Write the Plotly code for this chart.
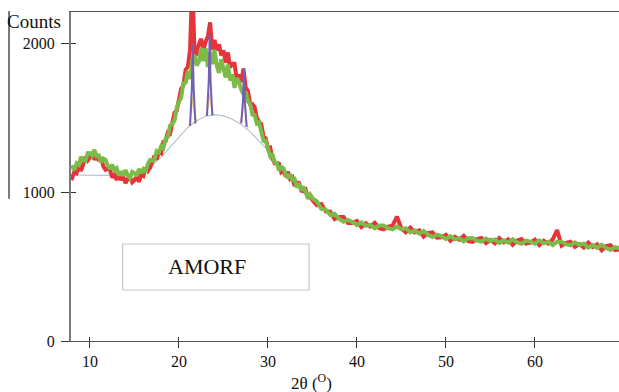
import plotly.graph_objects as go

# ---- data ----
two_theta_a = [7.9, 8.25, 8.5, 8.75, 9.0, 9.25, 9.5, 9.75,
               10.0, 10.25, 10.5, 10.75, 11.0, 11.25, 11.5, 11.75,
               12.0, 12.25, 12.5, 12.75, 13.0, 13.25, 13.5, 13.75,
               14.0, 14.25, 14.5, 14.75, 15.0, 15.25, 15.5, 15.75,
               16.0, 16.25, 16.5, 16.75, 17.0, 17.25, 17.5, 17.75,
               18.0, 18.25, 18.5, 18.75, 19.0, 19.25, 19.5, 19.75,
               20.0, 20.25, 20.5, 20.75, 21.0, 21.25, 21.5, 21.75,
               22.0, 22.25, 22.5, 22.75, 23.0, 23.25, 23.5, 23.75,
               24.0, 24.25, 24.5, 24.75, 25.0, 25.25, 25.5, 25.75,
               26.0, 26.25, 26.5, 26.75, 27.0, 27.25, 27.5, 27.75,
               28.0, 28.25, 28.5, 28.75, 29.0, 29.25, 29.5, 29.75,
               30.0, 30.25, 30.5, 30.75, 31.0, 31.25, 31.5, 31.75,
               32.0, 32.25, 32.5, 32.75, 33.0, 33.25, 33.5, 33.75,
               34.0, 34.25, 34.5, 34.75, 35.0]
two_theta_b = [35.5, 36.0, 36.5, 37.0, 37.5, 38.0, 38.5, 39.0, 39.5,
               40.0, 40.5, 41.0, 41.5, 42.0, 42.5, 43.0, 43.5, 44.0, 44.5,
               45.0, 45.5, 46.0, 46.5, 47.0, 47.5, 48.0, 48.5, 49.0, 49.5,
               50.0, 50.5, 51.0, 51.5, 52.0, 52.5, 53.0, 53.5, 54.0, 54.5,
               55.0, 55.5, 56.0, 56.5, 57.0, 57.5, 58.0, 58.5, 59.0, 59.5,
               60.0, 60.5, 61.0, 61.5, 62.0, 62.5, 63.0, 63.5, 64.0, 64.5,
               65.0, 65.5, 66.0, 66.5, 67.0, 67.5, 68.0, 68.5, 69.0, 69.5]
two_theta = two_theta_a + two_theta_b

green_counts = [
    1178, 1150, 1194, 1184, 1237, 1214, 1210, 1263,
    1262, 1246, 1284, 1241, 1246, 1199, 1225, 1218,
    1179, 1155, 1184, 1147, 1160, 1113, 1139, 1112,
    1149, 1112, 1095, 1136, 1128, 1109, 1155, 1128,
    1153, 1133, 1189, 1216, 1212, 1218, 1276, 1267,
    1308, 1296, 1359, 1370, 1447, 1454, 1481, 1567,
    1604, 1636, 1732, 1736, 1812, 1760, 1884, 1920,
    1850, 1878, 1970, 1880, 1966, 1840, 1940, 1860,
    1957, 1850, 1800, 1892, 1830, 1770, 1857, 1750,
    1791, 1700, 1766, 1740, 1688, 1659, 1675, 1611,
    1593, 1520, 1518, 1461, 1469, 1400, 1345, 1345,
    1294, 1243, 1258, 1201, 1196, 1145, 1169, 1160,
    1119, 1094, 1121, 1081, 1088, 1033, 1049, 1011,
    1037, 988, 957, 983, 959,
    938, 887, 883, 846, 855, 820, 801, 813, 800,
    779, 797, 773, 780, 757, 776, 776, 758, 750, 769,
    750, 757, 729, 742, 721, 739, 713, 698, 714, 704,
    686, 705, 683, 691, 669, 690, 691, 674, 667, 688,
    672, 682, 658, 676, 660, 683, 662, 653, 674, 668,
    654, 676, 656, 666, 645, 666, 667, 650, 642, 663,
    645, 654, 628, 644, 626, 647, 624, 612, 631, 623]

red_counts = [
    1080, 1137, 1127, 1174, 1142, 1202, 1237, 1213,
    1233, 1265, 1218, 1244, 1211, 1234, 1173, 1150,
    1157, 1151, 1098, 1115, 1082, 1120, 1082, 1102,
    1060, 1090, 1102, 1066, 1079, 1108, 1069, 1116,
    1108, 1163, 1142, 1163, 1215, 1244, 1220, 1265,
    1260, 1338, 1342, 1400, 1392, 1472, 1533, 1547,
    1610, 1695, 1716, 1822, 1842, 1958, 2420, 1940,
    1932, 1996, 2030, 1954, 2010, 2048, 2140, 1954,
    2023, 1952, 1993, 1919, 1953, 1869, 1938, 1838,
    1863, 1863, 1756, 1790, 1740, 1830, 1703, 1680,
    1592, 1592, 1571, 1500, 1472, 1458, 1371, 1362,
    1296, 1300, 1227, 1194, 1197, 1191, 1134, 1145,
    1105, 1136, 1089, 1100, 1042, 1065, 1062, 1010,
    1005, 1016, 958, 980, 946,
    912, 920, 871, 869, 818, 833, 833, 793, 793,
    806, 765, 790, 769, 794, 757, 750, 768, 775, 835,
    756, 731, 762, 730, 744, 702, 726, 730, 694, 697,
    713, 673, 700, 680, 706, 671, 665, 684, 692, 657,
    678, 656, 691, 664, 683, 646, 675, 685, 654, 661,
    681, 644, 673, 655, 682, 745, 641, 660, 667, 632,
    651, 628, 661, 632, 649, 610, 637, 644, 611, 616]

# amorphous background curve
bg_theta = [7.9, 10.0, 12.0, 14.0, 15.0, 16.0, 17.0, 18.0, 19.0, 20.0,
            21.0, 22.0, 23.0, 24.0, 25.0, 26.0, 27.0, 28.0, 29.0, 30.0, 31.0]
bg_counts = [1115, 1113, 1112, 1115, 1122, 1140, 1180, 1235, 1300, 1370,
             1435, 1480, 1510, 1520, 1512, 1490, 1455, 1405, 1345, 1280, 1195]

# fitted crystalline peaks (purple) and their bases (yellow)
peak_theta = [21.25, 21.45, 21.55, 21.65, 21.85, None,
              23.15, 23.35, 23.45, 23.55, 23.75, None,
              27.0, 27.2, 27.3, 27.4, 27.6]
peak_counts = [1445, 1700, 2000, 1700, 1460, None,
               1512, 1750, 2060, 1750, 1515, None,
               1462, 1620, 1830, 1620, 1438]
base_theta = [21.1, 21.4, 21.55, 21.7, 22.0, None,
              23.0, 23.3, 23.45, 23.6, 23.9, None,
              26.85, 27.15, 27.3, 27.45, 27.75]
base_counts = [1430, 1540, 1640, 1540, 1470, None,
               1510, 1580, 1660, 1580, 1518, None,
               1470, 1530, 1600, 1530, 1425]

x_ticks = [10, 20, 30, 40, 50, 60]
y_ticks = [0, 1000, 2000]
sample_label = "AMORF"

FONT = "Liberation Serif, Times New Roman, serif"

fig = go.Figure()
fig.add_trace(go.Scatter(x=bg_theta, y=bg_counts, mode="lines",
                         line=dict(color="#b4c4cc", width=1.2), hoverinfo="skip"))
fig.add_trace(go.Scatter(x=two_theta, y=red_counts, mode="lines",
                         line=dict(color="#e6343a", width=4)))
fig.add_trace(go.Scatter(x=two_theta, y=green_counts, mode="lines",
                         line=dict(color="#7dbb48", width=4)))
fig.add_trace(go.Scatter(x=base_theta, y=base_counts, mode="lines",
                         line=dict(color="#f0d070", width=1.2), connectgaps=False))
fig.add_trace(go.Scatter(x=peak_theta, y=peak_counts, mode="lines",
                         line=dict(color="#7460b0", width=2), connectgaps=False))
# empty trace to carry the inner tick marks
fig.add_trace(go.Scatter(x=[None], y=[None], xaxis="x2", yaxis="y2", mode="lines"))

fig.update_layout(
    width=619, height=392,
    margin=dict(l=71, r=0, t=12, b=51, autoexpand=False),
    paper_bgcolor="white", plot_bgcolor="white",
    showlegend=False,
    font=dict(family=FONT, color="#111", size=15),
    xaxis=dict(range=[7.87, 69.45], tickvals=x_ticks, ticks="outside", ticklen=6,
               tickcolor="#333", tickwidth=1, showgrid=False, zeroline=False,
               showline=True, linecolor="#555", linewidth=1.2, mirror=True,
               automargin=False,
               tickfont=dict(family=FONT, size=16, color="#111"), ticklabelstandoff=0),
    yaxis=dict(range=[0, 2210], tickvals=y_ticks, ticks="outside", ticklen=8,
               tickcolor="#333", tickwidth=1, showgrid=False, zeroline=False,
               showline=True, linecolor="#7a7a7a", linewidth=2, automargin=False,
               tickfont=dict(family=FONT, size=16, color="#111"), ticklabelstandoff=3),
    xaxis2=dict(range=[7.87, 69.45], tickvals=x_ticks, ticks="inside", ticklen=4,
                tickcolor="#333", showticklabels=False, showgrid=False, automargin=False,
                zeroline=False, showline=False, overlaying="x", anchor="y"),
    yaxis2=dict(range=[0, 2210], tickvals=[1000, 2000], ticks="inside", ticklen=5,
                tickcolor="#333", showticklabels=False, showgrid=False, automargin=False,
                zeroline=False, showline=False, overlaying="y", anchor="x"),
)

fig.add_shape(type="rect", xref="paper", yref="paper",
              x0=0.0943, x1=0.4343, y0=0.155, y1=0.2948,
              line=dict(color="#c8c8c8", width=1.2), fillcolor="rgba(0,0,0,0)")
fig.add_annotation(text=sample_label, xref="paper", yref="paper", x=0.248, y=0.225,
                   xanchor="center", yanchor="middle",
                   showarrow=False, font=dict(family=FONT, size=22, color="#111"))
fig.add_annotation(text="Counts", xref="paper", yref="paper", x=-0.0675, y=1.0,
                   yanchor="middle", xanchor="center", yshift=-9, showarrow=False,
                   font=dict(family=FONT, size=19, color="#111"))
fig.add_annotation(text="2θ (<sup>O</sup>)", xref="paper", yref="paper", x=0.438, y=0,
                   xanchor="center", yanchor="middle", yshift=-41, showarrow=False,
                   font=dict(family=FONT, size=17, color="#111"))
# stray vertical rule at the far left of the original figure
fig.add_shape(type="line", xref="paper", yref="paper", x0=-0.1131, x1=-0.1131,
              y0=1.003, y1=0.432, line=dict(color="#222", width=1.2))

fig.write_html("out.html", config={"displayModeBar": False},
               post_script="document.body.style.margin='0';document.body.style.padding='0';")
